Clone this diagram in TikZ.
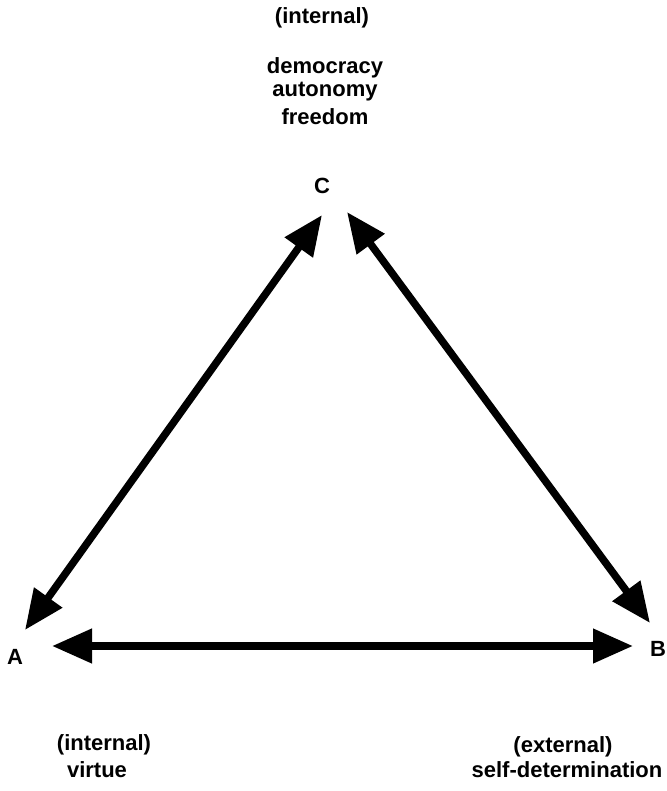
\documentclass[tikz,border=0pt]{standalone}
\usepackage{fontspec}
\setmainfont{Liberation Sans}
\usetikzlibrary{arrows.meta,calc}
\begin{document}
\begin{tikzpicture}[x=1pt,y=-1pt,
  lbl/.style={font=\fontsize{22}{26}\selectfont\bfseries, inner sep=0pt, anchor=center},
  conn/.style={line width=7.5pt, {Triangle[length=40pt,width=33pt]}-{Triangle[length=40pt,width=33pt]}}]
\useasboundingbox (0,0) rectangle (666,791);
\node[lbl] (ti) at (322,18) {(internal)};
\node[lbl] (t1) at (325,68) {democracy};
\node[lbl] (t2) at (325,92) {autonomy};
\node[lbl] (t3) at (325,117) {freedom};
\node[lbl] (C) at (322,186) {C};
\node[lbl] (A) at (15,657) {A};
\node[lbl] (B) at (658,649) {B};
\node[lbl] (li) at (104,745) {(internal)};
\node[lbl] (lv) at (97,770) {virtue};
\node[lbl] (re) at (563,747) {(external)};
\node[lbl] (rs) at (567,770) {self-determination};
\draw[conn] ($(A)+(10,-27)$) -- ($(C)+(0,29)$);
\draw[conn] ($(C)+(25,26)$) -- ($(B)+(-8,-26)$);
\draw[conn] ($(A)+(37,-11)$) -- ($(B)+(-25,-3)$);
\end{tikzpicture}
\end{document}
